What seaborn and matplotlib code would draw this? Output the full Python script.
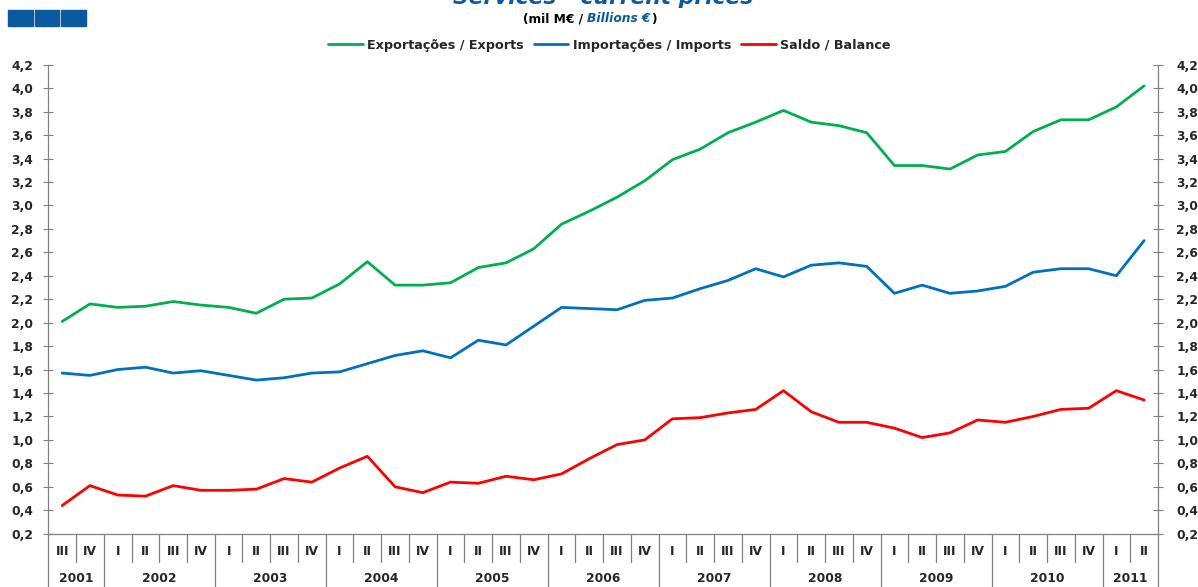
import pandas as pd
import numpy as np
import matplotlib
matplotlib.use("Agg")
import matplotlib.pyplot as plt
import matplotlib.transforms as mtrans
from matplotlib.patches import Rectangle
import seaborn as sns


# datos: trimestres desde 2001 III hasta 2011 II (mil M€)
anos = ["2001", "2002", "2003", "2004", "2005", "2006", "2007", "2008", "2009", "2010", "2011"]
trimestres_por_ano = [
    ["III", "IV"],
    ["I", "II", "III", "IV"],
    ["I", "II", "III", "IV"],
    ["I", "II", "III", "IV"],
    ["I", "II", "III", "IV"],
    ["I", "II", "III", "IV"],
    ["I", "II", "III", "IV"],
    ["I", "II", "III", "IV"],
    ["I", "II", "III", "IV"],
    ["I", "II", "III", "IV"],
    ["I", "II"],
]

exportacoes = [2.01, 2.16, 2.13, 2.14, 2.18, 2.15, 2.13, 2.08, 2.20, 2.21,
               2.33, 2.52, 2.32, 2.32, 2.34, 2.47, 2.51, 2.63, 2.84, 2.95,
               3.07, 3.21, 3.39, 3.48, 3.62, 3.71, 3.81, 3.71, 3.68, 3.62,
               3.34, 3.34, 3.31, 3.43, 3.46, 3.63, 3.73, 3.73, 3.84, 4.02]

importacoes = [1.57, 1.55, 1.60, 1.62, 1.57, 1.59, 1.55, 1.51, 1.53, 1.57,
               1.58, 1.65, 1.72, 1.76, 1.70, 1.85, 1.81, 1.97, 2.13, 2.12,
               2.11, 2.19, 2.21, 2.29, 2.36, 2.46, 2.39, 2.49, 2.51, 2.48,
               2.25, 2.32, 2.25, 2.27, 2.31, 2.43, 2.46, 2.46, 2.40, 2.70]

saldo = [0.44, 0.61, 0.53, 0.52, 0.61, 0.57, 0.57, 0.58, 0.67, 0.64,
         0.76, 0.86, 0.60, 0.55, 0.64, 0.63, 0.69, 0.66, 0.71, 0.84,
         0.96, 1.00, 1.18, 1.19, 1.23, 1.26, 1.42, 1.24, 1.15, 1.15,
         1.10, 1.02, 1.06, 1.17, 1.15, 1.20, 1.26, 1.27, 1.42, 1.34]

nomes = ["Exportações / Exports", "Importações / Imports", "Saldo / Balance"]
cores = ["#00B050", "#0070C0", "#FF0000"]

trimestres = [q for lista in trimestres_por_ano for q in lista]
n = len(trimestres)

df = pd.DataFrame({
    "pos": list(range(n)) * 3,
    "valor": exportacoes + importacoes + saldo,
    "serie": [nomes[0]] * n + [nomes[1]] * n + [nomes[2]] * n,
})

sns.set_style("white")
plt.rcParams["font.family"] = ["DejaVu Sans"]
plt.rcParams["font.weight"] = "bold"

W, H = 1198, 587
fig = plt.figure(figsize=(W / 100, H / 100), dpi=100)
ax = fig.add_axes([48.3 / W, 1 - 533.7 / H, (1158 - 48.3) / W, (533.7 - 64.7) / H])

sns.lineplot(data=df, x="pos", y="valor", hue="serie", palette=cores,
             hue_order=nomes, linewidth=2.0, ax=ax)

gris = "#808080"
yticks = np.round(np.arange(0.2, 4.21, 0.2), 1)
etiquetas_y = [f"{v:.1f}".replace(".", ",") for v in yticks]

ax.set_xlim(-0.5, n - 0.5)
ax.set_ylim(0.2, 4.2)
ax.set_xticks([])
ax.set_yticks(yticks)
ax.set_yticklabels(etiquetas_y)
ax.set_xlabel("")
ax.set_ylabel("")
ax.tick_params(axis="y", direction="inout", length=7.5, width=0.8, color=gris,
               pad=7, labelsize=8.8, left=True)
for s in ["top", "right"]:
    ax.spines[s].set_visible(False)
for s in ["left", "bottom"]:
    ax.spines[s].set_color(gris)
    ax.spines[s].set_linewidth(0.9)

# eje derecho con las mismas etiquetas
ax2 = ax.twinx()
ax2.set_ylim(0.2, 4.2)
ax2.set_yticks(yticks)
ax2.set_yticklabels(etiquetas_y)
ax2.tick_params(axis="y", direction="inout", length=7.5, width=0.8, color=gris,
                pad=9.5, labelsize=8.8, right=True)
for s in ["top", "left", "bottom"]:
    ax2.spines[s].set_visible(False)
ax2.spines["right"].set_color(gris)
ax2.spines["right"].set_linewidth(0.9)

# leyenda arriba
handles, labels = ax.get_legend_handles_labels()
ax.get_legend().remove()
fig.legend(handles, labels, loc="center", bbox_to_anchor=(609.5 / W, 1 - 45 / H),
           ncol=3, frameon=False, fontsize=9.2, handlelength=2.7,
           handletextpad=0.35, columnspacing=0.8)

# eje de categorias: trimestres y anos
def fy(px):
    return 1 - px / H

trans = mtrans.blended_transform_factory(ax.transData, fig.transFigure)

limites = np.cumsum([len(l) for l in trimestres_por_ano])
inicio = 0
for ano, fin in zip(anos, limites):
    ax.text((inicio + fin - 1) / 2, fy(579), ano, transform=trans, ha="center",
            va="center", fontsize=8.8, fontweight="bold")
    ax.plot([fin - 0.5, fin - 0.5], [fy(533.7), fy(H)], transform=trans,
            color=gris, lw=0.9, clip_on=False)
    inicio = fin
ax.plot([-0.5, -0.5], [fy(533.7), fy(H)], transform=trans, color=gris, lw=0.9, clip_on=False)

for i, q in enumerate(trimestres):
    ax.text(i, fy(551.5), q, transform=trans, ha="center", va="center",
            fontsize=8.8, fontweight="bold")
    if i > 0 and i not in limites:
        ax.plot([i - 0.5, i - 0.5], [fy(533.7), fy(562)], transform=trans,
                color=gris, lw=0.9, clip_on=False)

# titulo (cortado arriba) y subtitulo
azul = "#0B5AA0"
fig.text(603 / W, fy(4), "Services - current prices", ha="center", va="baseline",
         fontsize=15.7, fontweight="bold", fontstyle="italic", color=azul)

t1 = fig.text(523 / W, fy(22.5), "(mil M€ / ", ha="left", va="baseline",
              fontsize=8.8, fontweight="bold", color="black")
t2 = fig.text(0, 0, "Billions €", ha="left", va="baseline", fontsize=8.8,
              fontweight="bold", fontstyle="italic", color=azul)
fig.canvas.draw()
bb = t1.get_window_extent()
t2.set_position((bb.x1 / W, fy(22.5)))
bb2 = t2.get_window_extent()
fig.text(bb2.x1 / W, fy(22.5), ")", ha="left", va="baseline", fontsize=8.8,
         fontweight="bold", color="black")

# cuadrados azules arriba a la izquierda
for x0, w in [(8.3, 25), (35, 24.3), (61.3, 24.7)]:
    fig.patches.append(Rectangle((x0 / W, fy(26)), w / W, 16 / H,
                                 transform=fig.transFigure, color=azul))

fig.savefig("out.png", dpi=100)
